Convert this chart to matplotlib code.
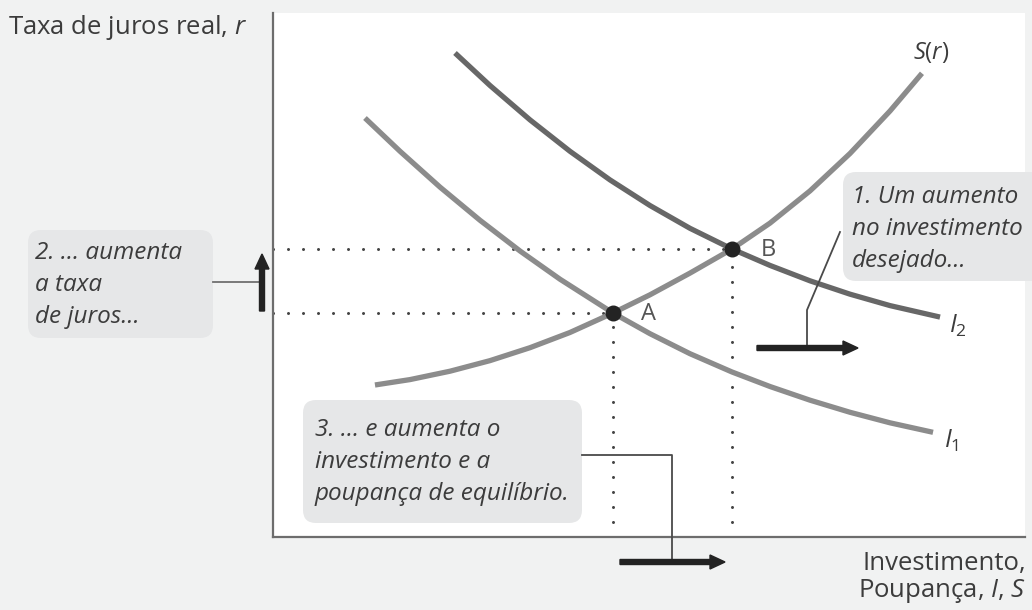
import matplotlib.pyplot as plt
from matplotlib.patches import FancyBboxPatch, FancyArrow

plt.rcParams['font.family'] = ['Open Sans', 'DejaVu Sans']
plt.rcParams['mathtext.fontset'] = 'custom'
plt.rcParams['mathtext.rm'] = 'Open Sans'
plt.rcParams['mathtext.it'] = 'Open Sans:italic'

# curvas (unidades arbitrarias 0-100)
s_x = [13.56, 18.22, 23.54, 28.86, 34.18, 39.49, 45.21, 50.13, 55.45, 61.04, 66.09, 71.41, 76.73, 82.05, 86.30]
s_y = [29.01, 30.04, 31.64, 33.66, 36.13, 39.03, 42.75, 46.22, 50.36, 54.96, 59.90, 66.05, 73.19, 81.30, 88.49]
i1_x = [12.23, 16.89, 22.21, 27.53, 32.85, 38.16, 45.21, 50.13, 55.45, 61.04, 66.09, 71.41, 76.73, 82.05, 87.77]
i1_y = [79.96, 73.61, 66.77, 60.44, 54.58, 49.20, 42.75, 38.80, 34.98, 31.49, 28.72, 26.11, 23.80, 21.79, 19.98]
i2_x = [24.20, 28.86, 34.18, 39.49, 44.81, 50.13, 55.45, 61.04, 66.09, 71.41, 76.73, 82.05, 88.70]
i2_y = [92.37, 86.16, 79.60, 73.61, 68.15, 63.26, 58.91, 54.96, 51.83, 48.89, 46.34, 44.16, 41.97]
eq_nomes = ['A', 'B']
eq_x = [45.21, 61.04]
eq_y = [42.75, 54.96]

nota1 = "1. Um aumento\nno investimento\ndesejado..."
nota2 = "2. ... aumenta\na taxa\nde juros..."
nota3 = "3. ... e aumenta o\ninvestimento e a\npoupança de equilíbrio."

fundo = '#f1f2f2'
caixa = '#e6e7e8'
txt = '#3c3c3c'
cinza_claro = '#8c8c8c'
cinza_escuro = '#676767'
preto = '#232323'

fig = plt.figure(figsize=(10.32, 6.10), dpi=100, facecolor=fundo)
ax = fig.add_axes([273 / 1032, 73 / 610, 752 / 1032, 524 / 610])
ax.set_facecolor('white')
ax.set_xlim(0, 100)
ax.set_ylim(0, 100)
ax.set_xticks([])
ax.set_yticks([])
for lado in ['top', 'right']:
    ax.spines[lado].set_visible(False)
for lado in ['left', 'bottom']:
    ax.spines[lado].set_color('#6d6d6d')
    ax.spines[lado].set_linewidth(1.6)

# linhas pontilhadas ate os eixos
for x, y in zip(eq_x, eq_y):
    ax.plot([0, x], [y, y], color='#444444', lw=2.2, dashes=(0.01, 4.9),
            dash_capstyle='round', zorder=1)
    ax.plot([x, x], [0, y], color='#444444', lw=2.2, dashes=(0.01, 4.9),
            dash_capstyle='round', zorder=1)

ax.plot(i1_x, i1_y, color=cinza_claro, lw=3.8, solid_capstyle='butt', solid_joinstyle='round', zorder=2)
ax.plot(i2_x, i2_y, color=cinza_escuro, lw=3.8, solid_capstyle='butt', solid_joinstyle='round', zorder=2)
ax.plot(s_x, s_y, color=cinza_claro, lw=3.8, solid_capstyle='butt', solid_joinstyle='round', zorder=2)
ax.scatter(eq_x, eq_y, s=110, color=preto, zorder=4)

for nome, x, y in zip(eq_nomes, eq_x, eq_y):
    ax.annotate(nome, (x, y), xytext=(36, -1), textcoords='offset pixels',
                ha='center', va='center', fontsize=17, color='#555555')

ax.annotate('$S(r)$', (s_x[-1], s_y[-1]), xytext=(9, 21), textcoords='offset pixels',
            ha='center', va='center', fontsize=17, color=txt)
ax.annotate('$I_2$', (i2_x[-1], i2_y[-1]), xytext=(18, -9), textcoords='offset pixels',
            ha='center', va='center', fontsize=18, color=txt)
ax.annotate('$I_1$', (i1_x[-1], i1_y[-1]), xytext=(18, -9), textcoords='offset pixels',
            ha='center', va='center', fontsize=18, color=txt)

# camada de anotacoes em pixels
ov = fig.add_axes([0, 0, 1, 1], zorder=3)
ov.set_xlim(0, 1032)
ov.set_ylim(610, 0)
ov.axis('off')
ov.patch.set_alpha(0)

ov.text(8, 28, 'Taxa de juros real, $r$', fontsize=18.5, color=txt, va='center', ha='left')
ov.text(1026, 578, 'Investimento,\nPoupança, $I$, $S$', fontsize=18.5, color=txt,
        va='center', ha='right', multialignment='right', linespacing=1.05)

for x0, y0, x1, y1 in [(28, 230, 213, 338), (843, 172, 1045, 281), (303, 400, 582, 523)]:
    ov.add_patch(FancyBboxPatch((x0, y0), x1 - x0, y1 - y0,
                                boxstyle='round,pad=0,rounding_size=13',
                                fc=caixa, ec='none', zorder=2))

ov.text(35, 285, nota2, fontsize=17.5, style='italic', color=txt, va='center', linespacing=1.42, zorder=3)
ov.text(852, 229, nota1, fontsize=17.5, style='italic', color=txt, va='center', linespacing=1.42, zorder=3)
ov.text(315, 462, nota3, fontsize=17.5, style='italic', color=txt, va='center', linespacing=1.42, zorder=3)

# linhas-guia
ov.plot([213, 262], [282, 282], color='#707070', lw=1.3, zorder=3)
ov.plot([807, 807, 840], [347, 310, 232], color='#4a4a4a', lw=1.3, zorder=3)
ov.plot([582, 672, 672], [455, 455, 562], color='#4a4a4a', lw=1.3, zorder=3)

# setas
for x, y, dx, dy in [(262, 311, 0, -57), (757, 348, 101, 0), (620, 562, 105, 0)]:
    ov.add_patch(FancyArrow(x, y, dx, dy, width=5, head_width=14, head_length=15,
                            length_includes_head=True, color=preto, zorder=4))

fig.savefig('out.png', dpi=100, facecolor=fundo)
